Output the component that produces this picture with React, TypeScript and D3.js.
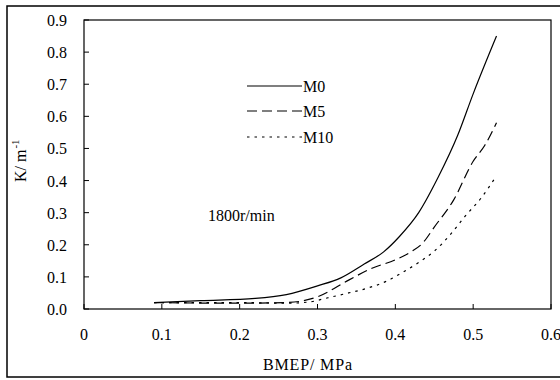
import React from "react";
import * as d3 from "d3";

const xTickValues = [0, 0.1, 0.2, 0.3, 0.4, 0.5, 0.6];
const xTickLabels = ["0", "0.1", "0.2", "0.3", "0.4", "0.5", "0.6"];
const yTickValues = [0, 0.1, 0.2, 0.3, 0.4, 0.5, 0.6, 0.7, 0.8, 0.9];
const yTickLabels = ["0.0", "0.1", "0.2", "0.3", "0.4", "0.5", "0.6", "0.7", "0.8", "0.9"];

const seriesNames = ["M0", "M5", "M10"];

const m0X = [0.09, 0.15, 0.22, 0.26, 0.30, 0.33, 0.36, 0.385, 0.405, 0.43, 0.455, 0.48, 0.50, 0.53];
const m0Y = [0.02, 0.026, 0.033, 0.045, 0.072, 0.097, 0.14, 0.178, 0.225, 0.30, 0.41, 0.54, 0.67, 0.85];

const m5X = [0.09, 0.20, 0.26, 0.28, 0.30, 0.34, 0.37, 0.40, 0.42, 0.435, 0.45, 0.475, 0.50, 0.515, 0.53];
const m5Y = [0.02, 0.018, 0.02, 0.025, 0.038, 0.09, 0.127, 0.153, 0.178, 0.205, 0.255, 0.34, 0.46, 0.51, 0.58];

const m10X = [0.09, 0.20, 0.26, 0.29, 0.31, 0.34, 0.36, 0.39, 0.41, 0.43, 0.45, 0.47, 0.49, 0.51, 0.53];
const m10Y = [0.02, 0.02, 0.018, 0.022, 0.033, 0.05, 0.062, 0.088, 0.115, 0.145, 0.18, 0.23, 0.29, 0.345, 0.415];

const dashes = [null, "10,5", "2.5,5"];

const FONT = '"Liberation Serif", "DejaVu Serif", serif';
const txt = { fontFamily: FONT, fontSize: "16px" };

export default function App() {
  const x = d3.scaleLinear().domain([0, 0.6]).range([84, 551]);
  const y = d3.scaleLinear().domain([0, 0.9]).range([309, 20]);

  const series = [
    m0X.map((v, i) => [v, m0Y[i]] as [number, number]),
    m5X.map((v, i) => [v, m5Y[i]] as [number, number]),
    m10X.map((v, i) => [v, m10Y[i]] as [number, number]),
  ];

  const line = d3
    .line<[number, number]>()
    .x((d) => x(d[0]))
    .y((d) => y(d[1]))
    .curve(d3.curveMonotoneX);

  const legendY = [86, 111, 137];

  return (
    <svg
      width={560}
      height={380}
      style={{ position: "absolute", left: 0, top: 0, background: "#fff", fontFamily: FONT }}
    >
      <rect x={0} y={0} width={560} height={380} fill="#fff" />
      {/* outer frame */}
      <rect x={7} y={6} width={570} height={371} fill="none" stroke="#000" strokeWidth={1.5} />
      {/* plot box */}
      <rect x={84} y={20} width={467} height={289} fill="none" stroke="#000" strokeWidth={1.2} />

      {/* y ticks */}
      {yTickValues.map((v, i) => (
        <g key={"y" + i}>
          <line x1={84} x2={89} y1={y(v)} y2={y(v)} stroke="#000" strokeWidth={1} />
          <text x={67} y={y(v) + 6} textAnchor="end" style={txt}>
            {yTickLabels[i]}
          </text>
        </g>
      ))}

      {/* x ticks */}
      {xTickValues.map((v, i) => (
        <g key={"x" + i}>
          <line x1={x(v)} x2={x(v)} y1={309} y2={304} stroke="#000" strokeWidth={1} />
          <text x={x(v)} y={340} textAnchor="middle" style={txt}>
            {xTickLabels[i]}
          </text>
        </g>
      ))}

      {/* series */}
      {series.map((s, i) => (
        <path
          key={"s" + i}
          d={line(s) || ""}
          fill="none"
          stroke="#000"
          strokeWidth={1.2}
          strokeDasharray={dashes[i] || undefined}
        />
      ))}

      {/* legend */}
      {seriesNames.map((n, i) => (
        <g key={"l" + i}>
          <line
            x1={247}
            x2={302}
            y1={legendY[i]}
            y2={legendY[i]}
            stroke="#000"
            strokeWidth={1.2}
            strokeDasharray={dashes[i] || undefined}
          />
          <text x={303} y={legendY[i] + 5.5} style={txt}>
            {n}
          </text>
        </g>
      ))}

      <text x={208} y={220.5} style={txt}>
        1800r/min
      </text>

      {/* axis titles */}
      <text x={263} y={370} style={txt} textLength={89} lengthAdjust="spacing">
        BMEP/ MPa
      </text>
      <text transform="translate(26,182) rotate(-90)" style={txt}>
        K/ m
        <tspan style={{ fontSize: "11px" }} dy={-7} dx={1}>
          -1
        </tspan>
      </text>
    </svg>
  );
}
